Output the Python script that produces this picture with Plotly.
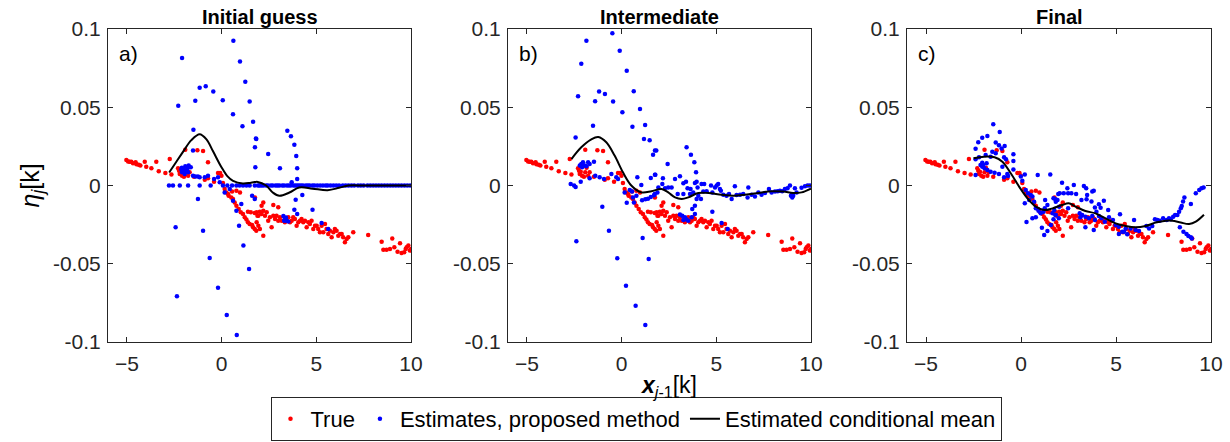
import plotly.graph_objects as go

# ---------------- data ----------------
TRUE_PTS = [
    (-5.03, 0.0163), (-4.94, 0.0154), (-4.86, 0.0152), (-4.77, 0.0152), (-4.68, 0.0142),
    (-4.54, 0.0148), (-4.50, 0.0135), (-4.38, 0.0133), (-4.29, 0.0127), (-4.06, 0.0152),
    (-3.98, 0.0120), (-3.71, 0.0110), (-3.45, 0.0152), (-3.32, 0.0091), (-2.97, 0.0080),
    (-2.74, 0.0169), (-2.65, 0.0071), (-2.30, 0.0110), (-2.25, 0.0095), (-2.16, 0.0088),
    (-2.21, 0.0073), (-2.09, 0.0063), (-1.99, 0.0056), (-1.92, 0.0084), (-1.85, 0.0114),
    (-1.77, 0.0063), (-1.69, 0.0084), (-1.46, 0.0056), (-1.92, 0.0229), (-1.28, 0.0225),
    (-0.98, 0.0220), (-0.89, 0.0037), (-0.72, 0.0148), (-0.72, 0.0046), (-0.40, 0.0024),
    (-0.19, 0.0080), (-0.08, 0.0080), (-0.01, 0.0063), (0.07, 0.0016), (0.16, -0.0022),
    (0.25, -0.0044), (0.34, -0.0054), (0.37, -0.0065), (0.51, -0.0076), (0.60, -0.0086),
    (0.69, -0.0108), (0.78, -0.0129), (0.90, -0.0150), (1.01, -0.0171), (1.13, -0.0182),
    (1.22, -0.0203), (1.31, -0.0218), (1.39, -0.0235), (1.48, -0.0246), (1.61, -0.0252),
    (1.66, -0.0267), (1.75, -0.0278), (1.83, -0.0289), (0.55, -0.0039), (0.78, -0.0033),
    (0.97, -0.0044), (1.39, -0.0167), (1.54, -0.0171), (1.75, -0.0176), (1.89, -0.0193),
    (1.76, -0.0076), (1.85, -0.0171), (1.94, -0.0193), (2.02, -0.0167), (2.11, -0.0182),
    (2.20, -0.0161), (2.29, -0.0193), (2.38, -0.0171), (2.46, -0.0225), (2.55, -0.0203),
    (2.64, -0.0267), (2.73, -0.0193), (2.82, -0.0214), (2.90, -0.0193), (2.99, -0.0225),
    (3.08, -0.0203), (3.17, -0.0225), (3.34, -0.0235), (3.43, -0.0214), (3.52, -0.0203),
    (3.61, -0.0235), (3.70, -0.0225), (3.78, -0.0203), (3.87, -0.0214), (3.96, -0.0257),
    (4.05, -0.0235), (4.14, -0.0225), (4.22, -0.0214), (4.31, -0.0235), (4.40, -0.0225),
    (4.49, -0.0267), (4.58, -0.0235), (4.66, -0.0246), (4.75, -0.0225), (4.84, -0.0278),
    (4.93, -0.0257), (5.02, -0.0257), (5.10, -0.0278), (5.19, -0.0299), (5.28, -0.0257),
    (5.37, -0.0299), (5.46, -0.0246), (5.54, -0.0278), (5.63, -0.0310), (5.72, -0.0289),
    (5.81, -0.0331), (5.90, -0.0299), (5.98, -0.0278), (6.07, -0.0289), (6.16, -0.0321),
    (6.25, -0.0310), (6.34, -0.0310), (6.42, -0.0331), (6.51, -0.0363), (6.60, -0.0342),
    (6.69, -0.0331), (6.95, -0.0299), (1.94, -0.0257), (2.02, -0.0278), (2.20, -0.0321),
    (1.85, -0.0235), (2.11, -0.0129), (2.20, -0.0108), (2.73, -0.0125), (2.99, -0.0139),
    (7.74, -0.0316), (8.45, -0.0359), (8.54, -0.0410), (8.71, -0.0410), (8.89, -0.0406),
    (9.01, -0.0338), (9.12, -0.0395), (9.29, -0.0423), (9.42, -0.0369), (9.50, -0.0431),
    (9.64, -0.0427), (9.72, -0.0406), (9.77, -0.0395), (9.86, -0.0384), (9.94, -0.0416),
    (10.0, -0.0406),
]

EST_INITIAL = [
    (0.62, 0.0925), (-2.09, 0.0815), (0.97, 0.0793), (1.25, 0.0663), (-1.16, 0.0625),
    (-0.84, 0.0634), (-0.44, 0.0600), (-1.39, 0.0542), (0.06, 0.0544), (1.48, 0.0536),
    (-2.29, 0.0510), (0.60, 0.0455), (1.66, 0.0408), (1.10, 0.0378), (1.83, 0.0297),
    (-1.49, 0.0357), (1.76, 0.0244), (-1.51, 0.0223), (1.78, 0.0116),
    (-2.10, 0.0114), (-2.02, 0.0105), (-1.99, 0.0095), (-1.92, 0.0123), (-1.81, 0.0105),
    (-1.74, 0.0127), (-1.63, 0.0116), (-2.09, 0.0084), (-1.95, 0.0073), (-2.13, 0.0103),
    (-1.92, 0.0091), (-1.77, 0.0084), (-1.51, 0.0063), (-1.39, 0.0058), (-1.25, 0.0058),
    (-1.16, 0.0052), (-0.89, 0.0052), (-0.72, 0.0063), (-0.40, 0.0041), (-0.19, 0.0052),
    (-0.10, 0.0020), (-1.25, -0.0086), (-2.43, -0.0267), (-0.98, -0.0289), (-0.63, -0.0463),
    (-0.19, -0.0653), (-2.36, -0.0708), (0.27, -0.0828), (0.80, -0.0955), (1.15, -0.0384),
    (1.45, -0.0534), (0.92, -0.0257), (0.78, -0.0161), (1.04, -0.0118), (0.60, -0.0097),
    (0.16, -0.0044), (0.43, -0.0022), (1.61, -0.0065), (1.75, -0.0086),
    (1.81, 0.0300), (3.47, 0.0350), (3.66, 0.0314), (3.84, 0.0261), (3.94, 0.0189),
    (3.99, 0.0110), (3.99, 0.0042), (3.08, 0.0110), (2.46, 0.0201), (3.70, 0.0020),
    (4.26, -0.0061), (3.91, -0.0091), (3.84, -0.0155), (4.80, -0.0155), (3.99, -0.0182),
    (3.26, -0.0195), (3.34, -0.0214), (3.43, -0.0225), (3.52, -0.0230), (3.30, -0.0225),
    (3.40, -0.0205), (5.28, -0.0240), (5.63, -0.0278),
    (-2.78, 0.0), (-2.57, 0.0), (-2.21, 0.0), (-1.77, 0.0), (-1.16, 0.0), (-0.58, 0.0),
    (0.07, 0.0), (0.30, 0.0), (0.55, 0.0), (0.78, 0.0), (0.95, 0.0), (1.13, 0.0),
    (1.31, 0.0), (1.48, 0.0), (1.75, 0.0), (1.92, 0.0), (2.00, 0.0), (2.10, 0.0),
    (2.20, 0.0), (2.35, 0.0), (2.45, 0.0), (2.60, 0.0), (2.70, 0.0), (2.85, 0.0),
    (2.95, 0.0), (3.05, 0.0), (3.20, 0.0), (3.30, 0.0), (3.45, 0.0), (3.55, 0.0),
    (3.65, 0.0), (3.80, 0.0), (3.90, 0.0), (4.00, 0.0), (4.10, 0.0), (4.20, 0.0),
    (4.30, 0.0), (4.45, 0.0), (4.55, 0.0), (4.65, 0.0), (4.80, 0.0), (4.90, 0.0),
    (5.05, 0.0), (5.20, 0.0), (5.35, 0.0), (5.50, 0.0), (5.60, 0.0), (5.75, 0.0),
    (5.90, 0.0), (6.05, 0.0), (6.20, 0.0), (6.40, 0.0), (6.55, 0.0), (6.70, 0.0),
    (6.85, 0.0), (7.00, 0.0), (7.20, 0.0), (7.35, 0.0), (7.50, 0.0), (7.70, 0.0),
    (7.85, 0.0), (8.00, 0.0), (8.15, 0.0), (8.30, 0.0), (8.45, 0.0), (8.60, 0.0),
    (8.75, 0.0), (8.90, 0.0), (9.05, 0.0), (9.20, 0.0), (9.35, 0.0), (9.50, 0.0),
    (9.65, 0.0), (9.80, 0.0), (9.95, 0.0),
]

EST_INTERMEDIATE = [
    (-0.49, 0.0973), (-1.86, 0.0925), (-0.10, 0.0861), (-2.13, 0.0778), (0.27, 0.0734),
    (-1.19, 0.0600), (-0.88, 0.0585), (-2.30, 0.0570), (-1.40, 0.0538), (-0.45, 0.0536),
    (0.64, 0.0602), (0.04, 0.0468), (0.97, 0.0489), (0.57, 0.0376), (1.24, 0.0387),
    (-1.51, 0.0382), (-2.43, 0.0306), (1.18, 0.0297), (1.48, 0.0289), (1.83, 0.0223),
    (1.66, 0.0197),
    (-2.13, 0.0137), (-2.04, 0.0148), (-1.95, 0.0127), (-1.86, 0.0123), (-1.77, 0.0148),
    (-1.69, 0.0137), (-1.46, 0.0152), (-2.09, 0.0116), (-2.21, 0.0127),
    (-1.69, 0.0046), (-1.39, 0.0063), (-1.16, 0.0052), (-0.93, 0.0041), (-0.54, 0.0073),
    (-0.28, 0.0052), (-0.19, 0.0041), (-2.69, 0.0010), (-2.51, 0.0), (-2.43, -0.0010),
    (-2.16, 0.0024), (0.83, 0.0052), (1.04, 0.0003), (1.54, 0.0048), (1.78, 0.0069),
    (0.16, -0.0044), (0.43, -0.0029), (0.55, -0.0039), (0.27, -0.0110), (0.60, -0.0076),
    (0.78, -0.0065), (1.08, -0.0094), (1.25, -0.0088), (1.39, -0.0084), (1.54, -0.0073),
    (1.71, -0.0063), (1.75, -0.0054), (1.89, -0.0044), (0.65, -0.0108), (-1.02, -0.0135),
    (-2.39, -0.0357), (-0.67, -0.0289), (1.11, -0.0336), (-0.23, -0.0465), (1.43, -0.0470),
    (0.23, -0.0640), (0.74, -0.0768), (1.25, -0.0892),
    (1.76, 0.0223), (1.76, 0.0069), (3.43, 0.0244), (3.66, 0.0197), (3.84, 0.0148),
    (3.93, 0.0084), (2.43, 0.0137), (2.18, 0.0046),
    (2.82, 0.0042), (3.08, 0.0059), (3.26, 0.0014), (3.40, 0.0024), (3.48, -0.0018),
    (3.64, -0.0022), (3.87, 0.0016), (3.96, 0.0024), (4.01, -0.0012), (4.22, 0.0010),
    (4.36, 0.0010), (4.31, -0.0039), (4.49, -0.0037), (4.72, 0.0), (4.79, -0.0044),
    (4.93, -0.0012), (5.02, 0.0), (5.10, 0.0010), (5.19, -0.0022), (5.24, -0.0033),
    (1.94, -0.0012), (2.15, 0.0010), (2.29, -0.0018), (2.46, -0.0012), (2.64, -0.0012),
    (2.96, -0.0054), (3.26, -0.0054), (3.61, -0.0054), (3.78, -0.0044), (3.96, -0.0086),
    (4.05, -0.0065), (4.19, -0.0086), (5.37, -0.0059), (5.54, -0.0065), (5.67, -0.0054),
    (5.81, -0.0086), (5.98, -0.0005), (6.07, -0.0061), (6.25, -0.0059), (6.42, -0.0054),
    (6.65, -0.0076), (6.69, -0.0012), (6.86, -0.0059), (7.04, -0.0071), (7.22, -0.0044),
    (7.39, -0.0059), (7.57, -0.0048), (7.78, -0.0022), (7.92, -0.0044), (8.10, -0.0039),
    (8.24, -0.0037), (8.36, -0.0033), (8.48, -0.0037), (8.62, -0.0022), (8.76, -0.0018),
    (8.89, 0.0), (8.94, -0.0065), (9.01, -0.0076), (8.98, -0.0059), (9.06, -0.0065),
    (9.15, -0.0018), (9.24, -0.0044), (9.50, -0.0014), (9.68, -0.0005), (9.82, 0.0),
    (9.94, 0.0), (3.87, -0.0129), (3.73, -0.0150), (3.87, -0.0182), (4.79, -0.0167),
    (3.08, -0.0186), (3.20, -0.0193), (3.34, -0.0203), (3.43, -0.0218), (3.52, -0.0225),
    (3.26, -0.0220), (3.70, -0.0203), (5.28, -0.0240), (5.60, -0.0278),
]

EST_FINAL = [
    (-1.46, 0.0391), (-1.12, 0.0342), (-1.77, 0.0316), (-2.04, 0.0305), (-2.25, 0.0276),
    (-1.33, 0.0274), (-1.16, 0.0257), (-0.86, 0.0252), (-1.02, 0.0237), (-2.39, 0.0235),
    (-1.51, 0.0216), (-1.33, 0.0206), (-1.86, 0.0195), (-1.60, 0.0184), (-0.40, 0.0199),
    (-2.39, 0.0167), (-2.21, 0.0180), (-2.04, 0.0146), (-2.13, 0.0131), (-1.99, 0.0131),
    (-1.92, 0.0110), (-1.77, 0.0099), (-2.04, 0.0120), (-1.81, 0.0142),
    (-0.89, 0.0180), (-0.79, 0.0167), (-0.40, 0.0156), (-1.60, 0.0088), (-1.39, 0.0082),
    (-1.16, 0.0073), (-0.89, 0.0052), (-0.72, 0.0073), (-0.68, 0.0060), (-0.98, 0.0120),
    (-2.39, 0.0067), (-0.40, 0.0103), (0.20, 0.0071), (0.88, 0.0067), (1.54, 0.0071),
    (0.07, 0.0031), (-0.01, 0.0057), (0.25, -0.0029), (0.37, -0.0050), (0.51, -0.0060),
    (0.60, -0.0071), (0.20, -0.0114), (0.43, -0.0093), (0.69, -0.0104), (0.78, -0.0146),
    (0.92, -0.0161), (1.04, -0.0178), (1.18, -0.0167), (0.29, -0.0233), (0.60, -0.0210),
    (0.78, -0.0203), (1.25, -0.0146), (1.39, -0.0124), (1.27, -0.0093), (1.10, -0.0270),
    (1.22, -0.0317), (1.39, -0.0291), (1.57, -0.0253), (1.71, -0.0216), (1.66, -0.0178),
    (1.75, -0.0157), (1.83, -0.0189), (1.92, -0.0093), (2.01, -0.0135), (1.83, -0.0104),
    (1.71, -0.0082), (1.96, -0.0055),
    (2.16, 0.0018), (2.78, 0.0003), (2.44, -0.0018), (2.04, -0.0050), (2.25, -0.0050),
    (2.48, -0.0050), (2.65, -0.0050), (2.90, -0.0054), (3.18, -0.0093), (3.31, -0.0003),
    (3.43, -0.0018), (3.48, -0.0061), (3.75, -0.0039), (3.45, -0.0088), (3.71, -0.0103),
    (3.83, -0.0033), (4.36, -0.0097), (4.10, -0.0120), (4.59, -0.0157), (3.89, -0.0140),
    (4.19, -0.0142), (5.21, -0.0184), (5.95, -0.0220),
    (3.09, -0.0178), (3.22, -0.0188), (3.13, -0.0203), (3.39, -0.0199), (3.57, -0.0210),
    (3.75, -0.0195), (3.89, -0.0220), (3.97, -0.0167), (4.10, -0.0195), (4.24, -0.0210),
    (4.41, -0.0231), (4.63, -0.0203), (4.84, -0.0220), (4.98, -0.0252), (5.15, -0.0310),
    (5.33, -0.0295), (5.51, -0.0274), (5.59, -0.0312), (5.77, -0.0274), (6.03, -0.0284),
    (6.21, -0.0291), (6.60, -0.0259), (6.74, -0.0274), (6.91, -0.0259), (7.05, -0.0216),
    (7.18, -0.0220), (7.30, -0.0225), (7.48, -0.0210), (7.67, -0.0220), (7.79, -0.0210),
    (7.88, -0.0216), (8.01, -0.0199), (8.11, -0.0188), (8.23, -0.0188), (8.32, -0.0167),
    (8.41, -0.0146), (8.46, -0.0131), (8.53, -0.0103), (8.60, -0.0076), (8.94, -0.0118),
    (8.36, -0.0267), (8.55, -0.0295), (8.71, -0.0310), (8.81, -0.0323), (8.94, -0.0331),
    (8.99, -0.0338), (9.20, -0.0050), (9.38, -0.0029), (9.50, -0.0018), (9.61, -0.0012),
    (1.81, -0.0088), (1.81, -0.0188), (1.99, -0.0210), (2.48, -0.0146), (3.39, -0.0267),
    (3.83, -0.0284), (5.15, -0.0263), (5.42, -0.0295),
]

MEAN_INITIAL = [
    (-2.77, 0.0083), (-2.40, 0.0150), (-2.04, 0.0215), (-1.60, 0.0290), (-1.16, 0.0328),
    (-0.80, 0.0295), (-0.46, 0.0220), (0.0, 0.0115), (0.30, 0.0060), (0.60, 0.0030),
    (1.12, 0.0013), (1.55, 0.0018), (1.91, 0.0023), (2.35, 0.0000), (2.70, -0.0045),
    (3.05, -0.0066), (3.58, -0.0045), (4.10, -0.0013), (4.80, -0.0020), (5.60, -0.0030),
    (6.20, -0.0015), (6.70, 0.0), (7.50, 0.0), (8.50, 0.0), (10.0, 0.0),
]

MEAN_INTERMEDIATE = [
    (-2.65, 0.0169), (-2.13, 0.0244), (-1.60, 0.0295), (-1.23, 0.0310), (-0.81, 0.0276),
    (-0.37, 0.0191), (0.07, 0.0084), (0.51, 0.0), (1.04, -0.0044), (1.57, -0.0037),
    (2.11, -0.0022), (2.46, -0.0044), (2.82, -0.0076), (3.17, -0.0086), (3.52, -0.0076),
    (4.05, -0.0048), (4.58, -0.0048), (5.28, -0.0059), (5.90, -0.0065), (6.51, -0.0059),
    (7.22, -0.0048), (7.92, -0.0037), (8.54, -0.0039), (9.06, -0.0048), (9.50, -0.0044),
    (10.0, -0.0020),
]

MEAN_FINAL = [
    (-2.50, 0.0174), (-1.95, 0.0184), (-1.39, 0.0180), (-0.98, 0.0152), (-0.54, 0.0078),
    (-0.10, -0.0007), (0.34, -0.0082), (0.78, -0.0135), (1.22, -0.0157), (1.66, -0.0146),
    (2.16, -0.0125), (2.51, -0.0114), (2.87, -0.0135), (3.39, -0.0163), (3.92, -0.0178),
    (4.45, -0.0210), (4.98, -0.0242), (5.51, -0.0259), (6.03, -0.0267), (6.56, -0.0259),
    (7.09, -0.0237), (7.62, -0.0225), (7.97, -0.0225), (8.41, -0.0237), (8.85, -0.0246),
    (9.20, -0.0231), (9.63, -0.0187),
]

PANEL_TITLES = ["Initial guess", "Intermediate", "Final"]
PANEL_TAGS = ["a)", "b)", "c)"]
X_TICKS = [-5, 0, 5, 10]
Y_TICKS = [-0.1, -0.05, 0, 0.05, 0.1]
Y_TICK_TEXT = ["-0.1", "-0.05", "0", "0.05", "0.1"]
SERIES_NAMES = ["True", "Estimates, proposed method", "Estimated conditional mean"]

# ---------------- figure ----------------
FONT = "Liberation Sans, Arial, Helvetica, sans-serif"
AX_COLOR = "#262626"
W, H = 1230, 442
ML, MR, MT, MB = 108, 19, 29, 100
PW = W - ML - MR
PH = H - MT - MB
panel_px = [(108, 411), (508, 811), (907, 1211)]
domains = [[(a - ML) / PW, (b - ML) / PW] for a, b in panel_px]

estimates = [EST_INITIAL, EST_INTERMEDIATE, EST_FINAL]
means = [MEAN_INITIAL, MEAN_INTERMEDIATE, MEAN_FINAL]

fig = go.Figure()
for i in range(3):
    xa = "x" if i == 0 else f"x{i+1}"
    ya = "y" if i == 0 else f"y{i+1}"
    fig.add_trace(go.Scatter(
        x=[p[0] for p in TRUE_PTS], y=[p[1] for p in TRUE_PTS],
        mode="markers", marker=dict(color="#ff0000", size=4.5),
        name=SERIES_NAMES[0], legendgroup="t", showlegend=(i == 0),
        xaxis=xa, yaxis=ya))
    est = estimates[i]
    fig.add_trace(go.Scatter(
        x=[p[0] for p in est], y=[p[1] for p in est],
        mode="markers", marker=dict(color="#0000ff", size=4.5),
        name=SERIES_NAMES[1], legendgroup="e", showlegend=(i == 0),
        xaxis=xa, yaxis=ya))
    mn = means[i]
    fig.add_trace(go.Scatter(
        x=[p[0] for p in mn], y=[p[1] for p in mn],
        mode="lines", line=dict(color="black", width=2, shape="spline", smoothing=1.0),
        name=SERIES_NAMES[2], legendgroup="m", showlegend=(i == 0),
        xaxis=xa, yaxis=ya))

axis_common = dict(
    showline=True, linecolor=AX_COLOR, linewidth=1, mirror="ticks",
    ticks="inside", ticklen=5, tickwidth=1, tickcolor=AX_COLOR,
    showgrid=False, zeroline=False,
    tickfont=dict(family=FONT, size=21, color=AX_COLOR),
)

layout = dict(
    width=W, height=H,
    margin=dict(l=ML, r=MR, t=MT, b=MB, autoexpand=False),
    paper_bgcolor="white", plot_bgcolor="white",
    font=dict(family=FONT, color=AX_COLOR),
    legend=dict(
        orientation="h", x=(636 - ML) / PW, xanchor="center",
        y=(342 - 441) / PH, yanchor="bottom",
        bordercolor=AX_COLOR, borderwidth=1, bgcolor="white",
        font=dict(family=FONT, size=22, color="black"),
        itemwidth=30, tracegroupgap=0,
    ),
)
annotations = []
for i in range(3):
    xk = "xaxis" if i == 0 else f"xaxis{i+1}"
    yk = "yaxis" if i == 0 else f"yaxis{i+1}"
    xr = "x" if i == 0 else f"x{i+1}"
    yr = "y" if i == 0 else f"y{i+1}"
    layout[xk] = dict(axis_common, domain=domains[i], anchor=yr, range=[-6, 10],
                      tickvals=X_TICKS, ticklabelstandoff=3, automargin=False)
    layout[yk] = dict(axis_common, domain=[0, 1], anchor=xr, range=[-0.1, 0.1],
                      tickvals=Y_TICKS, ticktext=Y_TICK_TEXT, ticklabelstandoff=2,
                      automargin=False)
    annotations.append(dict(
        text=f"<b>{PANEL_TITLES[i]}</b>", xref=f"{xr} domain", yref=f"{yr} domain",
        x=0.5, y=1.0, xanchor="center", yanchor="bottom", yshift=-1, showarrow=False,
        font=dict(family=FONT, size=20, color="black")))
    annotations.append(dict(
        text=PANEL_TAGS[i], xref=f"{xr} domain", yref=f"{yr} domain",
        x=0.03, y=0.965, xanchor="left", yanchor="top", showarrow=False,
        font=dict(family=FONT, size=21, color="black")))

annotations.append(dict(
    text="<i>η</i><sub><i>j</i></sub>[k]", xref="paper", yref="paper",
    x=(31 - ML) / PW, y=0.5, xanchor="center", yanchor="middle", textangle=-90,
    showarrow=False, font=dict(family=FONT, size=25, color="black")))
annotations.append(dict(
    text="<b><i>x</i></b><sub><i>j</i>-1</sub>[k]", xref="paper", yref="paper",
    x=(668 - ML) / PW, y=(342 - 386) / PH, xanchor="center", yanchor="middle",
    showarrow=False, font=dict(family=FONT, size=23, color="black")))

layout["annotations"] = annotations
fig.update_layout(**layout)
fig.write_html("out.html")
